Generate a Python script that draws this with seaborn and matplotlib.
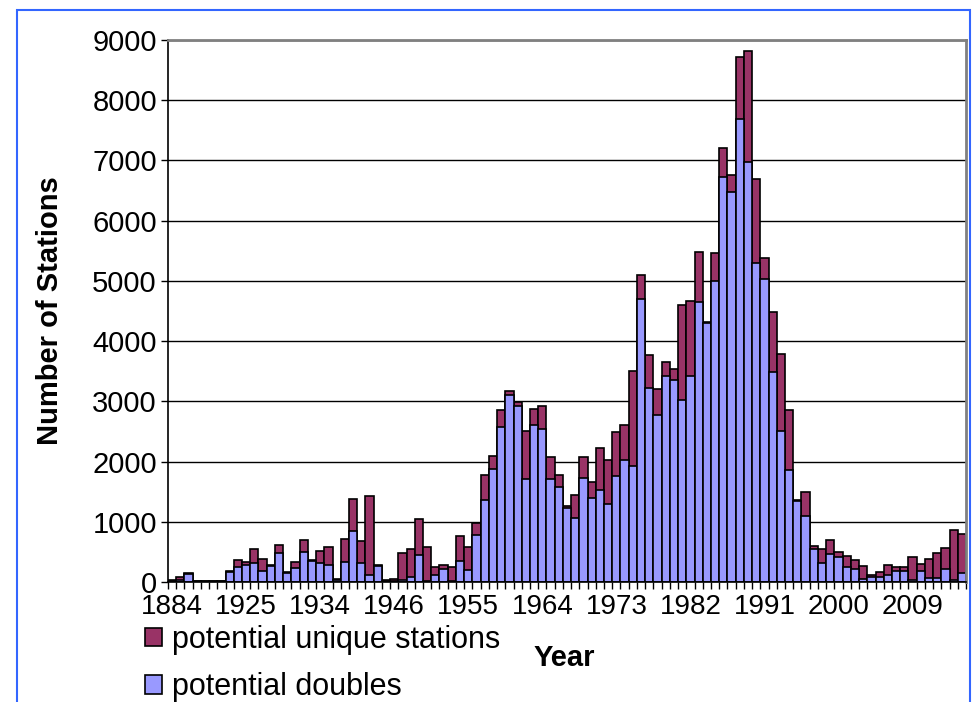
import matplotlib
matplotlib.use("Agg")
import matplotlib.pyplot as plt
import seaborn as sns
import numpy as np
from matplotlib.patches import Patch, Rectangle

# category years (only every 9th one is labelled on the axis)
years = [1884, 1886, 1888, 1895, 1900, 1905, 1910, 1915, 1924] \
    + list(range(1925, 1942)) + [1945] + list(range(1946, 2016))

# potential doubles (lower, blue part of each bar)
doubles = [12, 40, 140, 10, 10, 10, 10, 170, 255, 280,
           315, 190, 270, 480, 150, 230, 505, 345, 315, 280,
           40, 340, 840, 315, 110, 270, 10, 20, 30, 85,
           450, 20, 110, 220, 15, 345, 205, 785, 1365, 1875,
           2570, 3110, 2930, 1715, 2600, 2535, 1715, 1575, 1230, 1065,
           1720, 1390, 1530, 1290, 1760, 2020, 1925, 4700, 3225, 2780,
           3415, 3360, 3015, 3415, 4645, 4300, 5000, 6730, 6480, 7695,
           6970, 5305, 5035, 3485, 2505, 1860, 1340, 1100, 550, 315,
           470, 420, 250, 215, 50, 75, 80, 110, 180, 180,
           35, 185, 70, 70, 215, 35, 145]

# potential unique stations (upper, plum part of each bar)
unique = [13, 45, 15, 10, 10, 10, 10, 20, 105, 50,
          230, 200, 20, 140, 10, 100, 185, 25, 200, 300,
          10, 375, 540, 360, 1310, 20, 30, 30, 450, 465,
          600, 560, 140, 60, 240, 415, 375, 200, 420, 225,
          280, 65, 55, 790, 265, 395, 360, 195, 40, 375,
          360, 270, 690, 730, 730, 595, 1585, 400, 550, 430,
          235, 185, 1590, 1245, 840, 20, 470, 470, 280, 1025,
          1855, 1395, 340, 1005, 1280, 995, 20, 400, 40, 225,
          235, 70, 185, 155, 210, 45, 90, 180, 70, 70,
          380, 115, 310, 405, 355, 835, 645]

labels = [str(y) for y in years]
total = np.array(doubles) + np.array(unique)

sns.set_style("white")
plt.rcParams["font.family"] = ["Liberation Sans", "DejaVu Sans"]
plt.rcParams["text.color"] = "black"
plt.rcParams["axes.labelcolor"] = "black"
plt.rcParams["xtick.color"] = "black"
plt.rcParams["ytick.color"] = "black"

fig = plt.figure(figsize=(9.78, 7.02), dpi=100)
ax = fig.add_axes([168 / 978, 1 - 582 / 702, (966 - 168) / 978, 542 / 702])

sns.barplot(x=labels, y=total, color="#993366", saturation=1, width=1.0,
            edgecolor="black", linewidth=1.2, errorbar=None, ax=ax)
sns.barplot(x=labels, y=doubles, color="#9999FF", saturation=1, width=1.0,
            edgecolor="black", linewidth=1.2, errorbar=None, ax=ax)

ax.set_xlim(-0.5, len(labels) - 0.5)
ax.set_ylim(0, 9000)
ax.set_yticks(np.arange(0, 9001, 1000))
ax.yaxis.grid(True, color="black", linewidth=1)
ax.set_axisbelow(True)

# ticks between the bars, labels every 9th category
ax.set_xticks(np.arange(-0.5, len(labels), 1))
ax.set_xticklabels([])
lab_pos = np.arange(0, len(labels), 9)
ax.set_xticks(lab_pos, labels=[labels[i] for i in lab_pos], minor=True)
ax.tick_params(axis="x", which="minor", length=0, labelsize=20, pad=9,
               labelcolor="black")
ax.tick_params(axis="x", which="major", length=5, width=1, color="black",
               direction="out", bottom=True)
ax.tick_params(axis="y", length=5, width=1, color="black", direction="out",
               left=True, labelsize=21, pad=3, labelcolor="black")

for s in ["top", "right"]:
    ax.spines[s].set_color("#808080")
    ax.spines[s].set_linewidth(2)
for s in ["left", "bottom"]:
    ax.spines[s].set_color("black")
    ax.spines[s].set_linewidth(1.2)

ax.set_ylabel("Number of Stations", fontsize=21, fontweight="bold", va="center",
              color="black")
ax.yaxis.set_label_coords(-0.148, 0.5)
ax.set_xlabel("Year", fontsize=21, fontweight="bold", va="center", color="black")
ax.xaxis.set_label_coords(0.496, -0.14)

handles = [Patch(facecolor="#993366", edgecolor="black", linewidth=1.2),
           Patch(facecolor="#9999FF", edgecolor="black", linewidth=1.2)]
fig.legend(handles, ["potential unique stations", "potential doubles"],
           loc="upper left", bbox_to_anchor=(145 / 978, 1 - 625 / 702),
           frameon=False, fontsize=22, handlelength=0.55, handleheight=0.55,
           handletextpad=0.33, labelspacing=0.56, borderpad=0, borderaxespad=0)

# blue frame around the chart
fig.patches.append(Rectangle((17 / 978, -0.05), (970 - 17) / 978, 1.05 - 10 / 702,
                             transform=fig.transFigure, fill=False,
                             edgecolor="#3366FF", linewidth=1.5))

fig.savefig("out.png", dpi=100)
